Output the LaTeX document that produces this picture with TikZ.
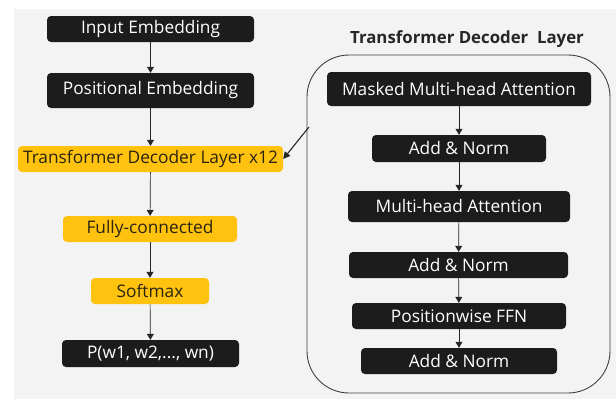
\documentclass[tikz,border=0pt]{standalone}
\usepackage{fontspec}
\setmainfont{Open Sans}
\usetikzlibrary{arrows.meta}
\definecolor{boxblack}{HTML}{1C1C1C}
\definecolor{boxyellow}{HTML}{FFC20E}
\definecolor{ytext}{HTML}{2A2410}
\definecolor{bg}{HTML}{F3F3F3}
\begin{document}
\begin{tikzpicture}[x=1pt,y=-1pt,
  darkbox/.style={fill=boxblack,text=white,rounded corners=4pt,inner sep=0pt,font=\fontsize{17.3}{20}\selectfont},
  yellowbox/.style={fill=boxyellow,text=ytext,rounded corners=4pt,inner sep=0pt,font=\fontsize{17.3}{20}\selectfont},
  flow/.style={draw=black!85,line width=0.7pt,-{Triangle[length=6pt,width=7pt]}},
]
\useasboundingbox (0,0) rectangle (616,399);
\fill[bg] (14,9) rectangle (616,399);
% left column
\node[darkbox,minimum width=207pt,minimum height=26pt] (ie) at (150.5,29) {Input Embedding};
\node[darkbox,minimum width=207pt,minimum height=35pt] (pe) at (150.5,90.5) {Positional Embedding};
\node[yellowbox,minimum width=265pt,minimum height=26pt] (tdl) at (150.5,159) {Transformer Decoder Layer x12};
\node[yellowbox,minimum width=174pt,minimum height=26pt] (fc) at (150,229) {Fully-connected};
\node[yellowbox,minimum width=118pt,minimum height=26pt] (sm) at (150,291) {Softmax};
\node[darkbox,minimum width=177pt,minimum height=27pt] (p) at (150.5,353.5) {P(w1, w2,..., wn)};
\draw[flow] (ie) -- (pe);
\draw[flow] (pe) -- (tdl);
\draw[flow] (tdl) -- (fc);
\draw[flow] (fc) -- (sm);
\draw[flow] (sm) -- (p);
% right panel
\node[font=\bfseries\fontsize{16.8}{19}\selectfont,text=black!85] (title) at (467,39) {Transformer Decoder\ \ Layer};
\node[draw=black!75,line width=0.9pt,rounded corners=42pt,minimum width=303pt,minimum height=338pt,inner sep=0pt] (frame) at (458.5,224) {};
\node[darkbox,minimum width=264pt,minimum height=34pt] (mmha) at (459,89) {Masked Multi-head Attention};
\node[darkbox,minimum width=174pt,minimum height=27pt] (an1) at (459,148.5) {Add \& Norm};
\node[darkbox,minimum width=222pt,minimum height=31pt] (mha) at (459,206.5) {Multi-head Attention};
\node[darkbox,minimum width=219pt,minimum height=26pt] (an2) at (458.5,265) {Add \& Norm};
\node[darkbox,minimum width=214pt,minimum height=26pt] (ffn) at (459,316) {Positionwise FFN};
\node[darkbox,minimum width=196pt,minimum height=26pt] (an3) at (459,361) {Add \& Norm};
\draw[flow] (mmha) -- (an1);
\draw[flow] (an1) -- (mha);
\draw[flow] (mha) -- (an2);
\draw[flow] (an2) -- (ffn);
\draw[flow] (ffn) -- (an3);
\coordinate (fl) at (309,127);
\draw[draw=black!85,line width=1.1pt,-{Triangle[length=7pt,width=7pt]}] (fl) -- (tdl.east);
\end{tikzpicture}
\end{document}
